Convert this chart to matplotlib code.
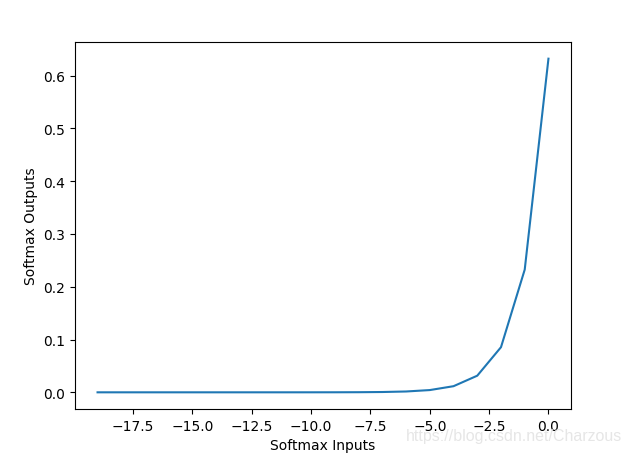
import matplotlib
matplotlib.use("Agg")
import matplotlib.pyplot as plt

inputs = [-19, -18, -17, -16, -15, -14, -13, -12, -11, -10,
          -9, -8, -7, -6, -5, -4, -3, -2, -1, 0]
outputs = [0.0, 0.0, 0.0, 0.0, 0.0, 0.0, 0.0, 0.00001, 0.00001, 0.00003,
           0.00008, 0.00021, 0.00058, 0.00157, 0.00426, 0.0116, 0.0315, 0.0855, 0.2325, 0.6321]

fig = plt.figure(figsize=(6.32, 4.56), dpi=100)
ax = fig.add_axes([75/632, 1-410/456, (571-75)/632, (410-43)/456])
ax.plot(inputs, outputs, color="#1f77b4", linewidth=1.5)
ax.set_xlabel("Softmax Inputs")
ax.set_ylabel("Softmax Outputs")
fig.text(622/632, 1-437/456, "https://blog.csdn.net/Charzous", ha="right", va="center",
         fontsize=11.5, family="Liberation Sans", color="#e6e6e6")
fig.savefig("out.png", dpi=100)
